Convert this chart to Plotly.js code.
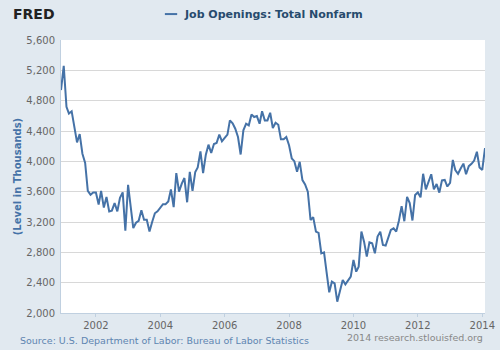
<!DOCTYPE html>
<html>
<head>
<meta charset="utf-8">
<script src="https://cdn.plot.ly/plotly-3.0.1.min.js"></script>
<style>
  html, body { margin: 0; padding: 0; background: #ffffff; }
  #chart { width: 500px; height: 350px; }
</style>
</head>
<body>
<div id="chart"></div>
<script>
// Monthly series: Job Openings: Total Nonfarm (thousands), Dec 2000 – Feb 2014
const startYear = 2000;
const startMonth = 12; // December
const jobOpenings = [
  4940, 5260, 4720, 4630, 4660, 4460, 4250, 4360, 4100, 3980,
  3610, 3560, 3590, 3590, 3430, 3610, 3390, 3530, 3340, 3350,
  3450, 3340, 3520, 3590, 3085, 3690, 3415, 3120, 3190, 3215,
  3355, 3230, 3230, 3075, 3200, 3315, 3340, 3385, 3435, 3435,
  3470, 3630, 3395, 3845, 3600, 3705, 3780, 3460, 3860, 3610,
  3860, 3920, 4130, 3846, 4088, 4220, 4110, 4229, 4242, 4352,
  4264, 4308, 4352, 4540, 4500, 4430, 4321, 4090, 4409, 4496,
  4474, 4619, 4584, 4597, 4496, 4660, 4540, 4540, 4641, 4440,
  4509, 4483, 4290, 4290, 4321, 4212, 4037, 4002, 3862, 3993,
  3752, 3695, 3599, 3227, 3265, 3074, 3056, 2787, 2800, 2545,
  2272, 2413, 2391, 2150, 2281, 2435, 2378, 2422, 2479, 2699,
  2545, 2611, 3073, 2941, 2743, 2932, 2919, 2787, 3007, 3073,
  2897, 2888, 3007, 3095, 3117, 3073, 3220, 3410, 3210, 3530,
  3450, 3220, 3555, 3590, 3525, 3836, 3630, 3718, 3830, 3630,
  3700, 3588, 3750, 3755, 3668, 3715, 4018, 3886, 3836, 3905,
  3970, 3830, 3937, 3967, 4011, 4126, 3920, 3886, 4175
];
const yTickValues = [2000, 2400, 2800, 3200, 3600, 4000, 4400, 4800, 5200, 5600];
const yTickLabels = ["2,000", "2,400", "2,800", "3,200", "3,600", "4,000", "4,400", "4,800", "5,200", "5,600"];
const xTickYears = ["2002", "2004", "2006", "2008", "2010", "2012", "2014"];
const seriesName = "Job Openings: Total Nonfarm";

function monthDate(k) {
  const total = (startYear * 12 + (startMonth - 1)) + k;
  const y = Math.floor(total / 12);
  const m = total % 12 + 1;
  return y + "-" + (m < 10 ? "0" + m : m) + "-01";
}
const dates = jobOpenings.map((_, k) => monthDate(k));

const lineColor = "#4572A7";

const trace = {
  type: "scatter",
  mode: "lines",
  x: dates,
  y: jobOpenings,
  name: seriesName,
  line: { color: lineColor, width: 2 },
  hoverinfo: "x+y",
  showlegend: false
};

const fontFam = "DejaVu Sans, Verdana, sans-serif";

const layout = {
  width: 500,
  height: 350,
  paper_bgcolor: "#E1E9F0",
  plot_bgcolor: "#FFFFFF",
  margin: { l: 61, r: 15, t: 40, b: 37 },
  font: { family: fontFam, size: 10, color: "#666666" },
  showlegend: false,
  xaxis: {
    type: "date",
    range: [dates[0], dates[dates.length - 1]],
    tickvals: xTickYears.map(y => y + "-01-01"),
    ticktext: xTickYears,
    showgrid: false,
    showline: true,
    linecolor: "#C0D0E0",
    linewidth: 1,
    ticks: "outside",
    ticklen: 3,
    tickcolor: "#C0D0E0",
    tickfont: { size: 10, color: "#666666" },
    zeroline: false,
    fixedrange: true
  },
  yaxis: {
    range: [2000, 5600],
    tickvals: yTickValues,
    ticktext: yTickLabels,
    showgrid: true,
    gridcolor: "#D8D8D8",
    gridwidth: 1,
    showline: true,
    linecolor: "#C0D0E0",
    zeroline: false,
    ticks: "",
    ticklabelstandoff: 3,
    tickfont: { size: 10, color: "#666666" },
    title: {
      text: "(Level in Thousands)",
      font: { size: 10, color: lineColor, weight: "bold" },
      standoff: 2
    },
    fixedrange: true
  },
  shapes: [
    {
      type: "line", xref: "paper", yref: "paper",
      x0: 0.245, x1: 0.274, y0: 1.095, y1: 1.095,
      line: { color: lineColor, width: 2 }
    }
  ],
  annotations: [
    {
      xref: "paper", yref: "paper", x: -0.118, y: 1.095,
      xanchor: "left", yanchor: "middle",
      text: "<b>FRED</b>", showarrow: false,
      font: { family: fontFam, size: 14, color: "#222222" }
    },
    {
      xref: "paper", yref: "paper", x: 0.285, y: 1.095,
      xanchor: "left", yanchor: "middle",
      text: "<b>" + seriesName + "</b>", showarrow: false,
      font: { family: fontFam, size: 11, color: "#274B6D" }
    },
    {
      xref: "paper", yref: "paper", x: -0.101, y: -0.1,
      xanchor: "left", yanchor: "middle",
      text: "Source: U.S. Department of Labor: Bureau of Labor Statistics", showarrow: false,
      font: { family: fontFam, size: 9.5, color: "#5E85B0" }
    },
    {
      xref: "paper", yref: "paper", x: 1.0, y: -0.09,
      xanchor: "right", yanchor: "middle",
      text: "2014 research.stlouisfed.org", showarrow: false,
      font: { family: fontFam, size: 9.5, color: "#888888" }
    }
  ]
};

Plotly.newPlot("chart", [trace], layout, { displayModeBar: false, staticPlot: true });
</script>
</body>
</html>
